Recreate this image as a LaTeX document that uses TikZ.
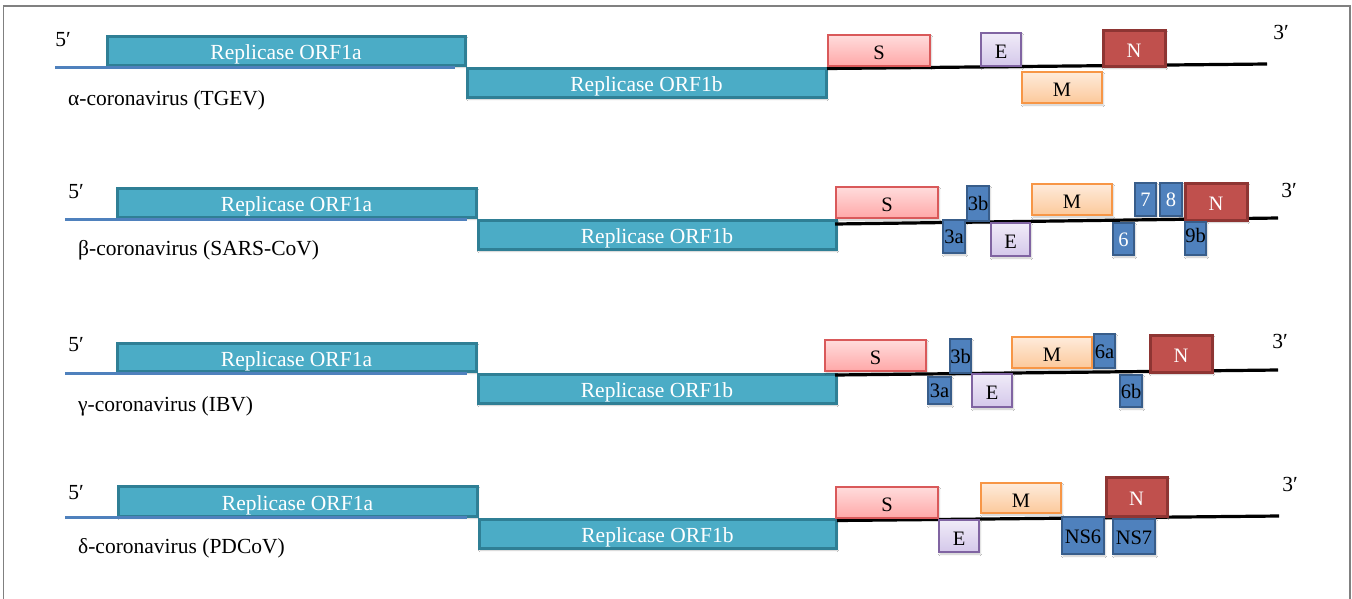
\documentclass[tikz,border=0pt]{standalone}
\usepackage{fontspec}
\setmainfont{Liberation Serif}
\usetikzlibrary{shadows.blur}
\definecolor{orfF}{HTML}{4BACC6}
\definecolor{orfD}{HTML}{2F7F95}
\definecolor{utrC}{HTML}{4F81BD}
\definecolor{sD}{HTML}{D9595A}
\definecolor{sT}{HTML}{FFDCDC}
\definecolor{sB}{HTML}{FFA8A8}
\definecolor{eD}{HTML}{8064A2}
\definecolor{eT}{HTML}{F0EBF8}
\definecolor{eB}{HTML}{D4C8EA}
\definecolor{mD}{HTML}{F79646}
\definecolor{mT}{HTML}{FEEBDB}
\definecolor{mB}{HTML}{FCC99B}
\definecolor{nF}{HTML}{C0504D}
\definecolor{nD}{HTML}{8E3533}
\definecolor{accF}{HTML}{4F81BD}
\definecolor{accD}{HTML}{385D8A}
\definecolor{frameC}{HTML}{808080}
\newcommand\orffont{\fontsize{21.5}{25}\selectfont}
\newcommand\genefont{\fontsize{20.5}{24}\selectfont}
\newcommand\lblfont{\fontsize{21.5}{25}\selectfont}
\newcommand\gbox[7]{\node[#1, minimum width={#4-#2-2}, minimum height={#5-#3-2}] (#6) at ({(#2+#4)/2},{(#3+#5)/2}) {#7};}
\begin{document}
\begin{tikzpicture}[x=1pt,y=-1pt,
  base/.style={rectangle, inner sep=0pt, outer sep=0pt, font=\genefont, text=black, text height=18.5pt, text depth=0pt},
  shad/.style={blur shadow={shadow xshift=1pt, shadow yshift=-2pt, shadow opacity=22, shadow blur steps=4}},
  orf/.style={base, shad, fill=orfF, draw=orfD, line width=3pt, text=white, font=\orffont},
  sgene/.style={base, shad, draw=sD, line width=1.7pt, top color=sT, bottom color=sB},
  egene/.style={base, shad, draw=eD, line width=1.7pt, top color=eT, bottom color=eB},
  mgene/.style={base, shad, draw=mD, line width=1.7pt, top color=mT, bottom color=mB},
  ngene/.style={base, shad, fill=nF, draw=nD, line width=3pt, text=white},
  acc/.style={base, shad, fill=accF, draw=accD, line width=1.8pt, text height=14pt},
  accw/.style={acc, text=white},
  utr/.style={draw=utrC, line width=3pt},
  genome/.style={draw=black, line width=3.2pt},
  lbl/.style={font=\lblfont, inner sep=0pt, anchor=west},
  prime/.style={font=\lblfont, inner sep=0pt}]
\useasboundingbox (0,0) rectangle (1352,598);
\fill[white] (0,0) rectangle (1352,598);
\draw[frameC, line width=1.3pt] (3.5,640) -- (3.5,6) -- (1350,6) -- (1350,640);

% ---------- Row 1: alpha ----------
\gbox{orf}{106}{35}{466}{66}{r1a}{Replicase ORF1a}
\gbox{orf}{466}{67}{827}{98}{r1b}{Replicase ORF1b}
\coordinate (r1u0) at (55,67);
\coordinate (r1u1) at (455,67);
\coordinate (r1g0) at (827,68.5);
\coordinate (r1g1) at (1267,64);
\draw[utr] (r1u0) -- (r1u1);
\draw[genome] (r1g0) -- (r1g1);
\gbox{sgene}{827}{34}{931}{67}{r1S}{S}
\gbox{egene}{980}{32}{1022}{67}{r1E}{E}
\gbox{ngene}{1102}{29}{1166}{67}{r1N}{N}
\gbox{mgene}{1021}{71}{1103}{104}{r1M}{M}
\node[prime] (r1p5) at (63,40) {5′};
\node[prime] (r1p3) at (1281,32) {3′};
\node[lbl] (r1l) at (68,100) {α-coronavirus (TGEV)};

% ---------- Row 2: beta ----------
\gbox{orf}{116}{187}{477}{218}{r2a}{Replicase ORF1a}
\gbox{orf}{477}{219}{837}{250}{r2b}{Replicase ORF1b}
\coordinate (r2u0) at (65,219);
\coordinate (r2u1) at (467,219);
\coordinate (r2g0) at (835,224);
\coordinate (r2g1) at (1278,218);
\draw[utr] (r2u0) -- (r2u1);
\draw[genome] (r2g0) -- (r2g1);
\gbox{sgene}{835}{186}{939}{219}{r2S}{S}
\gbox{acc}{942}{219}{966}{254}{r23a}{3a}
\gbox{acc}{966}{185}{990}{222}{r23b}{3b}
\gbox{egene}{990}{222}{1031}{257}{r2E}{E}
\gbox{mgene}{1031}{183}{1113}{216}{r2M}{M}
\gbox{accw}{1112}{222}{1135}{256}{r26}{6}
\gbox{accw}{1134}{182}{1157}{217}{r27}{7}
\gbox{accw}{1159}{182}{1183}{217}{r28}{8}
\gbox{ngene}{1184}{182}{1248}{221}{r2N}{N}
\gbox{acc,text height=8pt}{1184}{221}{1207}{256}{r29b}{9b}
\node[prime] (r2p5) at (76,192) {5′};
\node[prime] (r2p3) at (1289,190) {3′};
\node[lbl] (r2l) at (78,250) {β-coronavirus (SARS-CoV)};

% ---------- Row 3: gamma ----------
\gbox{orf}{116}{342}{477}{372}{r3a}{Replicase ORF1a}
\gbox{orf}{477}{373}{837}{404}{r3b}{Replicase ORF1b}
\coordinate (r3u0) at (65,373);
\coordinate (r3u1) at (467,373);
\coordinate (r3g0) at (835,375);
\coordinate (r3g1) at (1278,370);
\draw[utr] (r3u0) -- (r3u1);
\draw[genome] (r3g0) -- (r3g1);
\gbox{sgene}{824}{339}{927}{372}{r3S}{S}
\gbox{acc}{927}{376}{952}{405}{r33a}{3a}
\gbox{acc}{949}{338}{972}{374}{r33b}{3b}
\gbox{egene}{971}{373}{1013}{408}{r3E}{E}
\gbox{mgene}{1011}{336}{1093}{369}{r3M}{M}
\gbox{acc}{1093}{333}{1116}{369}{r36a}{6a}
\gbox{acc}{1119}{374}{1143}{408}{r36b}{6b}
\gbox{ngene}{1149}{334}{1213}{373}{r3N}{N}
\node[prime] (r3p5) at (76,345) {5′};
\node[prime] (r3p3) at (1280,341) {3′};
\node[lbl] (r3l) at (78,406) {γ-coronavirus (IBV)};

% ---------- Row 4: delta ----------
\gbox{orf}{117}{485}{478}{517}{r4a}{Replicase ORF1a}
\gbox{orf}{478}{518}{837}{549}{r4b}{Replicase ORF1b}
\coordinate (r4u0) at (65,517);
\coordinate (r4u1) at (467,517);
\coordinate (r4g0) at (837,520.5);
\coordinate (r4g1) at (1279,516);
\draw[utr] (r4u0) -- (r4u1);
\draw[genome] (r4g0) -- (r4g1);
\gbox{sgene}{835}{486}{939}{519}{r4S}{S}
\gbox{egene}{938}{519}{980}{553}{r4E}{E}
\gbox{mgene}{980}{482}{1062}{514}{r4M}{M}
\gbox{acc,text height=16pt}{1061}{516}{1105}{555}{r4NS6}{NS6}
\gbox{ngene}{1105}{476}{1168}{517}{r4N}{N}
\gbox{acc,text height=16pt}{1112}{518}{1156}{555}{r4NS7}{NS7}
\node[prime] (r4p5) at (76,493) {5′};
\node[prime] (r4p3) at (1290,484) {3′};
\node[lbl] (r4l) at (78,548) {δ-coronavirus (PDCoV)};
\end{tikzpicture}
\end{document}
